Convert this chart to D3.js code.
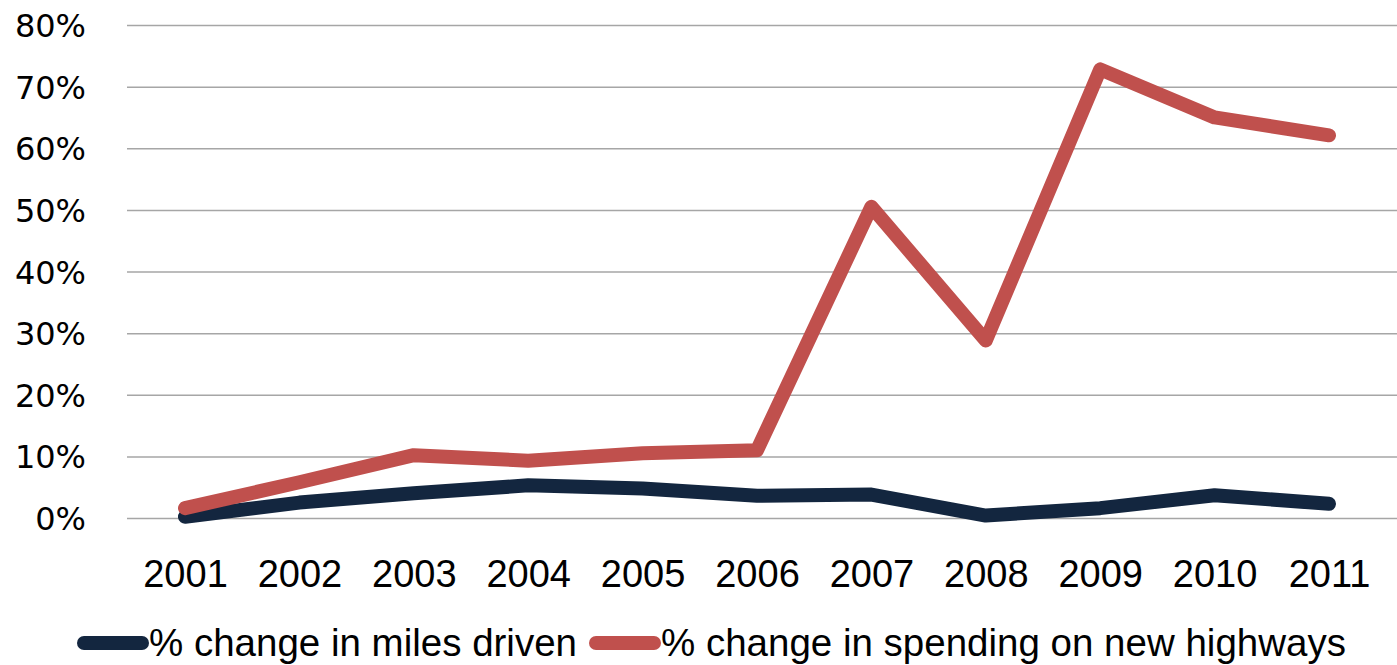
<html>
<head>
<script src="https://d3js.org/d3.v7.min.js"></script>
<style>
  body { margin: 0; background: #fff; }
</style>
</head>
<body>
<svg id="chart" width="1397" height="665"></svg>
<script>
const years = ['2001','2002','2003','2004','2005','2006','2007','2008','2009','2010','2011']
const milesDriven = [0.2, 2.5, 4.0, 5.3, 4.8, 3.6, 3.8, 0.4, 1.6, 3.7, 2.3]
const highwaySpending = [1.6, 5.8, 10.2, 9.3, 10.5, 11.0, 50.5, 28.8, 72.8, 65.0, 62.1]
const yTicks = [0, 10, 20, 30, 40, 50, 60, 70, 80]
const seriesNames = ['% change in miles driven', '% change in spending on new highways']
const colors = ['#13263f', '#c0504d']

const svg = d3.select('svg#chart')
const plot = {left: 127, right: 1397, top: 25, bottom: 518}

const xScale = d3.scalePoint().domain(years).range([185, 1329])
const yScale = d3.scaleLinear().domain([0, 80]).range([plot.bottom, plot.top])

// gridlines
let yGrid = d3.axisLeft(yScale).tickValues(yTicks).tickSize(-(plot.right - plot.left)).tickFormat('')
svg.append('g')
  .attr('class', 'y grid')
  .attr('transform', `translate(${plot.left},0)`)
  .call(yGrid)
  .call(g => g.select('.domain').remove())
  .call(g => g.selectAll('line').attr('stroke', '#a6a6a6').attr('stroke-width', 1.5))

// y labels
let yAxis = d3.axisLeft(yScale).tickValues(yTicks).tickSize(0).tickFormat(d => d + '%')
svg.append('g')
  .attr('class', 'y axis')
  .attr('transform', `translate(86,0)`)
  .call(yAxis)
  .call(g => g.select('.domain').remove())
  .call(g => g.selectAll('text')
    .attr('x', 0)
    .attr('dy', '0.36em')
    .attr('fill', '#000')
    .style('font-family', 'DejaVu Sans')
    .style('font-size', '32px'))

// x labels
let xAxis = d3.axisBottom(xScale).tickSize(0)
svg.append('g')
  .attr('class', 'x axis')
  .attr('transform', `translate(0,560)`)
  .call(xAxis)
  .call(g => g.select('.domain').remove())
  .call(g => g.selectAll('text')
    .attr('y', 0)
    .attr('dy', '0.71em')
    .attr('fill', '#000')
    .style('font-family', 'Liberation Sans')
    .style('font-size', '38px'))

const line = d3.line().x((d, i) => xScale(years[i])).y(d => yScale(d))

;[milesDriven, highwaySpending].forEach((s, i) => {
  svg.append('path')
    .datum(s)
    .attr('d', line)
    .attr('fill', 'none')
    .attr('stroke', colors[i])
    .attr('stroke-width', 14)
    .attr('stroke-linejoin', 'round')
    .attr('stroke-linecap', 'round')
})

// legend
const legend = svg.append('g').attr('class', 'legend')
const legendX = [84, 596]
seriesNames.forEach((name, i) => {
  legend.append('line')
    .attr('x1', legendX[i]).attr('x2', legendX[i] + 58)
    .attr('y1', 643).attr('y2', 643)
    .attr('stroke', colors[i])
    .attr('stroke-width', 14)
    .attr('stroke-linecap', 'round')
  legend.append('text')
    .attr('x', legendX[i] + 65)
    .attr('y', 656)
    .text(name)
    .style('font-family', 'Liberation Sans')
    .style('font-size', '38.5px')
    .attr('fill', '#000')
})
</script>
</body>
</html>
